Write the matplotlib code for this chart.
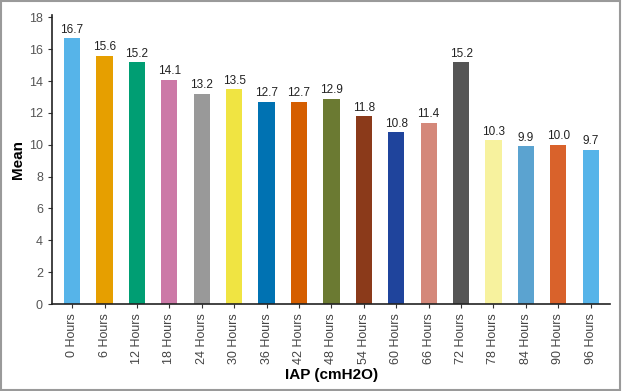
import matplotlib
matplotlib.use("Agg")
import matplotlib.pyplot as plt
from matplotlib.patches import Rectangle

plt.rcParams['font.family'] = ['Liberation Sans', 'DejaVu Sans']

labels = ['0 Hours', '6 Hours', '12 Hours', '18 Hours', '24 Hours', '30 Hours',
          '36 Hours', '42 Hours', '48 Hours', '54 Hours', '60 Hours', '66 Hours',
          '72 Hours', '78 Hours', '84 Hours', '90 Hours', '96 Hours']
means = [16.7, 15.6, 15.2, 14.1, 13.2, 13.5, 12.7, 12.7, 12.9, 11.8, 10.8, 11.4,
         15.2, 10.3, 9.9, 10.0, 9.7]
colors = ['#56B4E9', '#E69F00', '#009E73', '#CC79A7', '#999999', '#F0E442',
          '#0072B2', '#D55E00', '#6B7A32', '#8B3A1A', '#1F449C', '#D4887A',
          '#555555', '#F7F29E', '#5BA3D0', '#D9622B', '#56B4E9']

fig = plt.figure(figsize=(6.22, 3.91), dpi=100)
ax = fig.add_axes([0.0836, 0.2225, 0.8974, 0.739])

x = list(range(len(labels)))
ax.bar(x, means, width=0.5, color=colors)
for xi, v in zip(x, means):
    ax.text(xi, v + 0.15, f'{v:.1f}', ha='center', va='bottom', fontsize=8.5, color='#222222')

ax.set_xlim(-0.62, 16.6)
ax.set_ylim(0, 18.15)
ax.set_yticks(range(0, 19, 2))
ax.set_xticks(x)
ax.set_xticklabels(labels, rotation=90, fontsize=9, color='#444444')
ax.tick_params(axis='y', labelsize=9, labelcolor='#555555', length=3, color='#333333')
ax.tick_params(axis='x', length=3, color='#333333')
for s in ['top', 'right']:
    ax.spines[s].set_visible(False)
for s in ['left', 'bottom']:
    ax.spines[s].set_color('#222222')
    ax.spines[s].set_linewidth(1.2)

ax.set_ylabel('Mean', fontsize=11, fontweight='bold', labelpad=3)
ax.set_xlabel('IAP (cmH2O)', fontsize=11, fontweight='bold', labelpad=3)

fig.patches.append(Rectangle((0.002, 0.003), 0.995, 0.994, transform=fig.transFigure,
                             fill=False, edgecolor='#9a9a9a', linewidth=1.5))

fig.savefig('out.png', dpi=100)
